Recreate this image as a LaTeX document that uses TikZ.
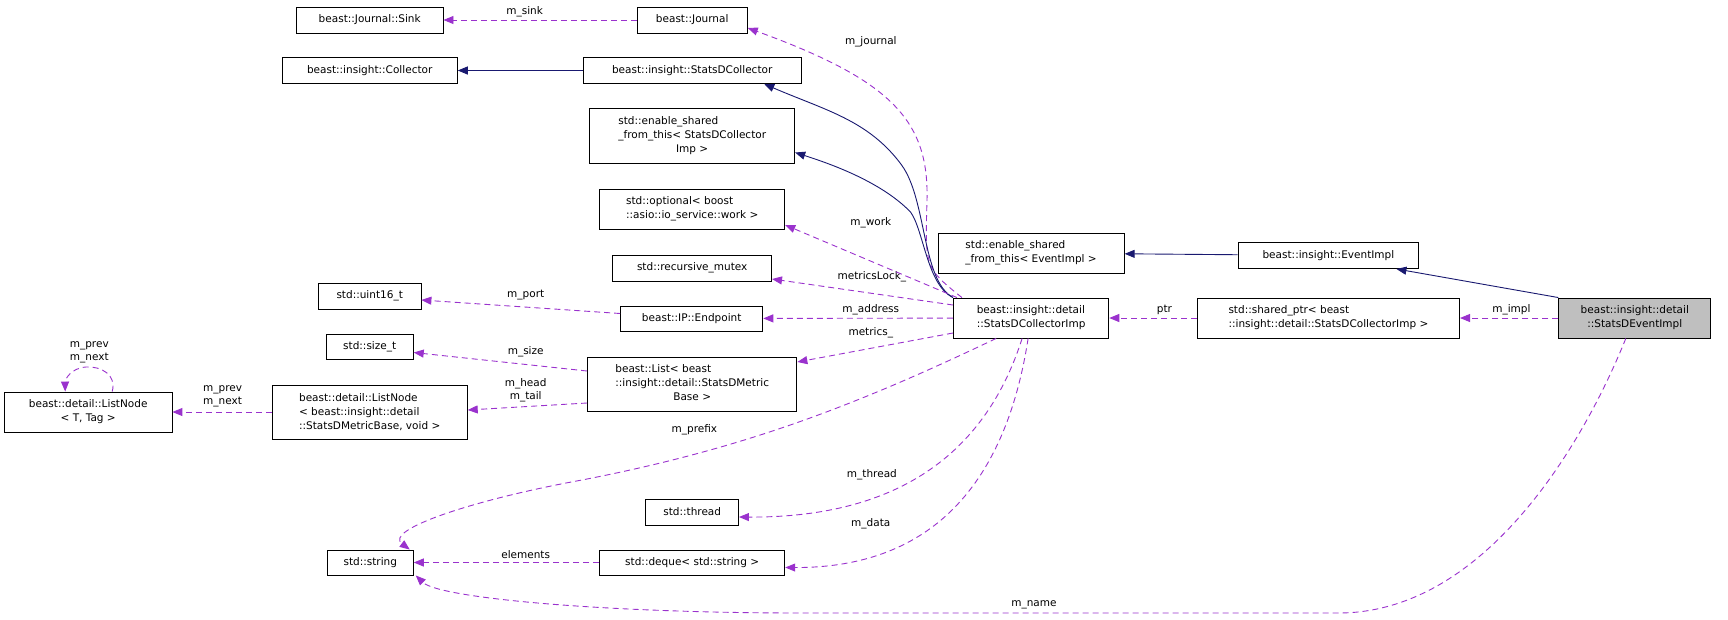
\documentclass[tikz,border=0pt]{standalone}
\usepackage{fontspec}
\setmainfont{DejaVu Sans}
\usetikzlibrary{arrows.meta}
\definecolor{uso}{HTML}{9A32CD}
\definecolor{hereda}{HTML}{191970}
\tikzstyle{clase}= [rectangle,draw,black,line width=0.9pt,inner sep=0pt,font=\fontsize{10.5}{14}\selectfont,align=left]
\tikzstyle{etiq}= [inner sep=0pt,font=\fontsize{10.5}{13}\selectfont,align=center]
\tikzstyle{miembro}= [uso,line width=0.9pt,dash pattern=on 6pt off 4pt,-{Triangle[length=10pt,width=8pt]}]
\tikzstyle{base}= [hereda,line width=0.9pt,-{Triangle[length=10pt,width=8pt]}]
\newcommand{\izq}[1]{\begin{tabular}{@{}l@{}}#1\end{tabular}}
\begin{document}
\begin{tikzpicture}[x=1pt,y=-1pt]
		\useasboundingbox (0,0) rectangle (1728,619);

		\node (sink) at (369.7,20) [clase,minimum width=146.6,minimum height=26] {beast::Journal::Sink};
		\node (jrnl) at (692.2,20) [clase,minimum width=110.2,minimum height=26] {beast::Journal};
		\node (col) at (369.7,70.5) [clase,minimum width=175.2,minimum height=26] {beast::insight::Collector};
		\node (sdc) at (692.2,70.5) [clase,minimum width=218.2,minimum height=26] {beast::insight::StatsDCollector};
		\node (esc) at (692.2,135.5) [clase,minimum width=205,minimum height=55] {\izq{std::enable\_shared\\\_from\_this< StatsDCollector\\\multicolumn{1}{@{}c@{}}{Imp >}}};
		\node (opt) at (692.2,209) [clase,minimum width=185.1,minimum height=40] {std::optional< boost\\::asio::io\_service::work >};
		\node (mtx) at (692.2,268) [clase,minimum width=158.7,minimum height=26] {std::recursive\_mutex};
		\node (u16) at (369.7,296) [clase,minimum width=102.5,minimum height=26] {std::uint16\_t};
		\node (ep) at (691.7,318.5) [clase,minimum width=142.2,minimum height=25] {beast::IP::Endpoint};
		\node (szt) at (369.7,346.5) [clase,minimum width=87.1,minimum height=25] {std::size\_t};
		\node (lst) at (692.2,384) [clase,minimum width=209.4,minimum height=54] {\izq{beast::List< beast\\::insight::detail::StatsDMetric\\\multicolumn{1}{@{}c@{}}{Base >}}};
		\node (lnt) at (88.2,412) [clase,minimum width=167.5,minimum height=40,align=center] {beast::detail::ListNode\\< T, Tag >};
		\node (lnb) at (369.7,412) [clase,minimum width=195.1,minimum height=54] {beast::detail::ListNode\\< beast::insight::detail\\::StatsDMetricBase, void >};
		\node (thr) at (692.2,512) [clase,minimum width=92.6,minimum height=26] {std::thread};
		\node (str) at (370.3,562.5) [clase,minimum width=86,minimum height=25] {std::string};
		\node (dq) at (692.2,562.5) [clase,minimum width=185.1,minimum height=25] {std::deque< std::string >};
		\node (ese) at (1031.1,253) [clase,minimum width=186.2,minimum height=40] {std::enable\_shared\\\_from\_this< EventImpl >};
		\node (imp) at (1031.1,318) [clase,minimum width=155.4,minimum height=40] {beast::insight::detail\\::StatsDCollectorImp};
		\node (evt) at (1328.4,255.5) [clase,minimum width=180.7,minimum height=26] {beast::insight::EventImpl};
		\node (sp) at (1328.4,318) [clase,minimum width=262.3,minimum height=40] {std::shared\_ptr< beast\\::insight::detail::StatsDCollectorImp >};
		\node (sev) at (1634.8,318) [clase,fill=black!25,minimum width=152.1,minimum height=40,align=center] {beast::insight::detail\\::StatsDEventImpl};

		\node (l1) at (524.6,12) [etiq] {m\_sink};
		\node (l2) at (870.8,42) [etiq] {m\_journal};
		\node (l3) at (870.8,223) [etiq] {m\_work};
		\node (l4) at (871.9,277) [etiq] {metricsLock\_};
		\node (l5) at (870.8,310) [etiq] {m\_address};
		\node (l6) at (870.8,333) [etiq] {metrics\_};
		\node (l7) at (525.7,295) [etiq] {m\_port};
		\node (l8) at (525.7,352) [etiq] {m\_size};
		\node (l9) at (525.7,390) [etiq] {m\_head\\m\_tail};
		\node (l10) at (222.6,396) [etiq] {m\_prev\\m\_next};
		\node (l11) at (89.3,352) [etiq] {m\_prev\\m\_next};
		\node (l12) at (694.4,430) [etiq] {m\_prefix};
		\node (l13) at (871.9,475) [etiq] {m\_thread};
		\node (l14) at (870.8,524) [etiq] {m\_data};
		\node (l15) at (525.7,555) [etiq] {elements};
		\node (l16) at (1164.4,310) [etiq] {ptr};
		\node (l17) at (1511.4,310) [etiq] {m\_impl};
		\node (l18) at (1033.9,605) [etiq] {m\_name};

		\draw[miembro] (jrnl) -- (sink);
		\draw[miembro] ([xshift=9pt]imp.north west) .. controls (925,268) .. (927,200) .. controls (929,120) and (890.6,80) .. ([yshift=-8pt]jrnl.east);
		\draw[base] (sdc) -- (col);
		\draw[base] (imp.north west) .. controls (921.5,280) and (927,200) .. (901.6,165) .. controls (868.5,120) and (824.5,110) .. ([xshift=72pt]sdc.south);
		\draw[base] (imp.north west) .. controls (927,285) and (923.7,230) .. (910.5,212) .. controls (879.6,180) and (824.5,162) .. ([yshift=-17pt]esc.east);
		\draw[miembro] ([xshift=4pt]imp.north west) -- ([yshift=-16pt]opt.east);
		\draw[miembro] ([yshift=13pt]imp.west) -- ([yshift=-11pt]mtx.east);
		\draw[miembro] (imp) -- (ep);
		\draw[miembro] ([yshift=-15pt]imp.west) -- ([yshift=22pt]lst.east);
		\draw[miembro] ([xshift=-35pt]imp.south) .. controls (846.5,410) and (736.3,450) .. (582,480) .. controls (471.9,500) and (383.7,530) .. ([xshift=-4pt]str.north east);
		\draw[miembro] ([xshift=-9pt]imp.south) .. controls (989.8,440) and (912.6,518) .. ([yshift=-5pt]thr.east);
		\draw[miembro] ([xshift=-3pt]imp.south) .. controls (1006.3,480) and (934.7,568) .. ([yshift=-5pt]dq.east);
		\draw[miembro] (dq) -- (str);
		\draw[miembro] ([yshift=5pt]ep.west) -- ([yshift=-4pt]u16.east);
		\draw[miembro] ([yshift=13pt]lst.west) -- ([yshift=-6pt]szt.east);
		\draw[miembro] ([yshift=-19pt]lst.west) -- ([yshift=2pt]lnb.east);
		\draw[miembro] (lnb) -- (lnt);
		\draw[miembro] ([xshift=24pt]lnt.north) .. controls (116.8,375) and (101.4,366) .. (86,367) .. controls (70.5,368) and (65,380) .. ([xshift=-23pt]lnt.north);
		\draw[miembro] (sp) -- (imp);
		\draw[miembro] (sev) -- (sp);
		\draw[base] (sev.north west) -- ([xshift=68pt]evt.south);
		\draw[base] (evt) -- (ese);
		\draw[miembro] ([xshift=-9pt]sev.south) .. controls (1580.8,450) and (1481.6,613) .. (1338.4,613) -- (802.5,613) .. controls (603,613) and (438.8,598) .. ([xshift=2pt]str.south east);

	\end{tikzpicture}
\end{document}
